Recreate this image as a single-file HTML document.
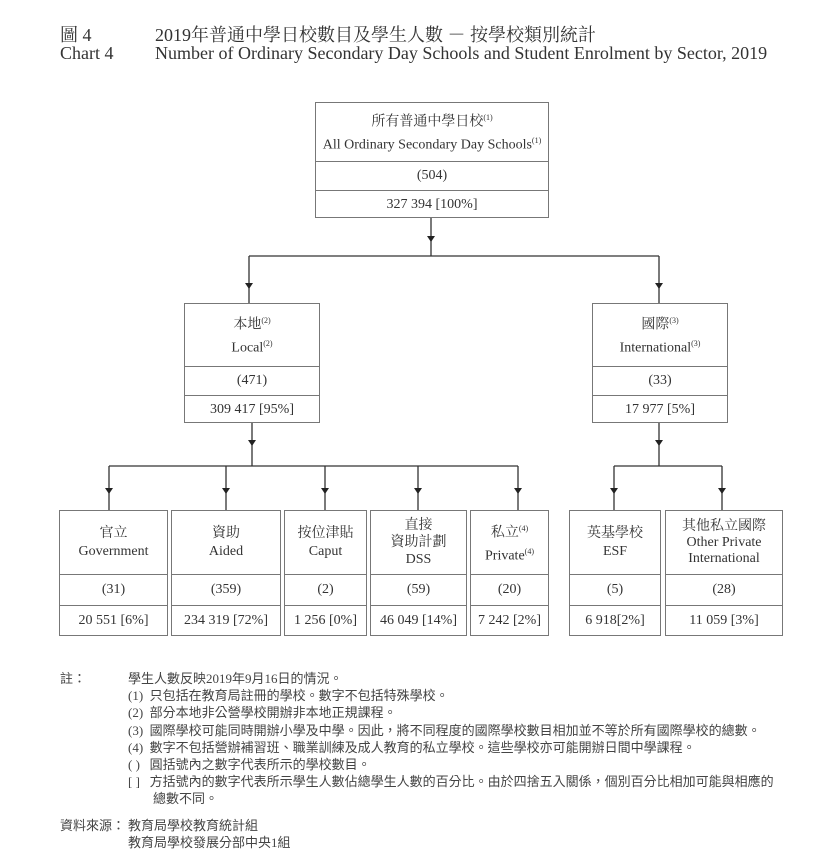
<!DOCTYPE html>
<html><head><meta charset="utf-8"><style>
body{margin:0;width:828px;height:846px;background:#fff;font-family:"Liberation Serif","Noto Serif CJK SC","Noto Sans CJK TC",serif;color:#333;position:relative;overflow:hidden}
.a{position:absolute;white-space:nowrap}
.box{position:absolute;border:1.5px solid #777;box-sizing:border-box;background:#fff}
.box div{position:absolute;left:0;right:0;text-align:center;box-sizing:border-box}
.r1{top:0;display:flex;flex-direction:column;justify-content:center;font-size:14px;line-height:18px}
.r2,.r3{border-top:1.5px solid #777;display:flex;align-items:center;justify-content:center;font-size:14px}
sup{font-size:8px}
.n{font-size:13px;color:#444;font-family:"Liberation Serif","Noto Sans CJK TC",serif}
</style></head><body>
<div class="a" style="left:60px;top:21px;font-size:18px">圖 4</div>
<div class="a" style="left:155px;top:21px;font-size:18px">2019年普通中學日校數目及學生人數 － 按學校類別統計</div>
<div class="a" style="left:60px;top:43px;font-size:18px">Chart 4</div>
<div class="a" style="left:155px;top:43px;font-size:18px">Number of Ordinary Secondary Day Schools and Student Enrolment by Sector, 2019</div>

<svg class="a" style="left:0;top:0" width="828" height="846">
<g stroke="#333" stroke-width="1.3" fill="none">
<line x1="431" y1="217" x2="431" y2="256"/>
<line x1="249" y1="256" x2="659" y2="256"/>
<line x1="249" y1="256" x2="249" y2="303"/>
<line x1="659" y1="256" x2="659" y2="303"/>
<line x1="252" y1="422" x2="252" y2="466"/>
<line x1="109" y1="466" x2="518" y2="466"/>
<line x1="659" y1="422" x2="659" y2="466"/>
<line x1="614" y1="466" x2="722" y2="466"/>
<line x1="109" y1="466" x2="109" y2="510"/>
<line x1="226" y1="466" x2="226" y2="510"/>
<line x1="325" y1="466" x2="325" y2="510"/>
<line x1="418" y1="466" x2="418" y2="510"/>
<line x1="518" y1="466" x2="518" y2="510"/>
<line x1="614" y1="466" x2="614" y2="510"/>
<line x1="722" y1="466" x2="722" y2="510"/>
</g>
<g fill="#222">
<path d="M427 236h8l-4 6z"/>
<path d="M245 283h8l-4 6z"/><path d="M655 283h8l-4 6z"/>
<path d="M248 440h8l-4 6z"/><path d="M655 440h8l-4 6z"/>
<path d="M105 488h8l-4 6z"/><path d="M222 488h8l-4 6z"/><path d="M321 488h8l-4 6z"/><path d="M414 488h8l-4 6z"/><path d="M514 488h8l-4 6z"/><path d="M610 488h8l-4 6z"/><path d="M718 488h8l-4 6z"/>
</g>
</svg>

<div class="box" style="left:315px;top:102px;width:234px;height:116px">
<div class="r1" style="height:58px"><span>所有普通中學日校<sup>(1)</sup></span><span>All Ordinary Secondary Day Schools<sup>(1)</sup></span></div>
<div class="r2" style="top:58px;height:29px">(504)</div>
<div class="r3" style="top:87px;height:28px">327 394 [100%]</div>
</div>

<div class="box" style="left:184px;top:303px;width:136px;height:120px">
<div class="r1" style="height:62px"><span>本地<sup>(2)</sup></span><span>Local<sup>(2)</sup></span></div>
<div class="r2" style="top:62px;height:29px">(471)</div>
<div class="r3" style="top:91px;height:28px">309 417 [95%]</div>
</div>
<div class="box" style="left:592px;top:303px;width:136px;height:120px">
<div class="r1" style="height:62px"><span>國際<sup>(3)</sup></span><span>International<sup>(3)</sup></span></div>
<div class="r2" style="top:62px;height:29px">(33)</div>
<div class="r3" style="top:91px;height:28px">17 977 [5%]</div>
</div>

<div class="box" style="left:59px;top:510px;width:109px;height:126px"><div class="r1" style="height:63px"><span>官立</span><span>Government</span></div><div class="r2" style="top:63px;height:31px">(31)</div><div class="r3" style="top:94px;height:31px">20 551 [6%]</div></div>
<div class="box" style="left:171px;top:510px;width:110px;height:126px"><div class="r1" style="height:63px"><span>資助</span><span>Aided</span></div><div class="r2" style="top:63px;height:31px">(359)</div><div class="r3" style="top:94px;height:31px">234 319 [72%]</div></div>
<div class="box" style="left:284px;top:510px;width:83px;height:126px"><div class="r1" style="height:63px"><span>按位津貼</span><span>Caput</span></div><div class="r2" style="top:63px;height:31px">(2)</div><div class="r3" style="top:94px;height:31px">1 256 [0%]</div></div>
<div class="box" style="left:370px;top:510px;width:97px;height:126px"><div class="r1" style="height:63px;line-height:17px"><span>直接</span><span>資助計劃</span><span>DSS</span></div><div class="r2" style="top:63px;height:31px">(59)</div><div class="r3" style="top:94px;height:31px">46 049 [14%]</div></div>
<div class="box" style="left:470px;top:510px;width:79px;height:126px"><div class="r1" style="height:63px"><span>私立<sup>(4)</sup></span><span>Private<sup>(4)</sup></span></div><div class="r2" style="top:63px;height:31px">(20)</div><div class="r3" style="top:94px;height:31px">7 242 [2%]</div></div>
<div class="box" style="left:569px;top:510px;width:92px;height:126px"><div class="r1" style="height:63px"><span>英基學校</span><span>ESF</span></div><div class="r2" style="top:63px;height:31px">(5)</div><div class="r3" style="top:94px;height:31px">6 918[2%]</div></div>
<div class="box" style="left:665px;top:510px;width:118px;height:126px"><div class="r1" style="height:63px;line-height:16px"><span>其他私立國際</span><span>Other Private</span><span>International</span></div><div class="r2" style="top:63px;height:31px">(28)</div><div class="r3" style="top:94px;height:31px">11 059 [3%]</div></div>

<div class="a n" style="left:60px;top:668px">註：</div>
<div class="a n" style="left:128px;top:668px">學生人數反映2019年9月16日的情況。</div>
<div class="a n" style="left:128px;top:685px">(1)&nbsp;&nbsp;只包括在教育局註冊的學校。數字不包括特殊學校。</div>
<div class="a n" style="left:128px;top:702px">(2)&nbsp;&nbsp;部分本地非公營學校開辦非本地正規課程。</div>
<div class="a n" style="left:128px;top:720px">(3)&nbsp;&nbsp;國際學校可能同時開辦小學及中學。因此，將不同程度的國際學校數目相加並不等於所有國際學校的總數。</div>
<div class="a n" style="left:128px;top:737px">(4)&nbsp;&nbsp;數字不包括營辦補習班、職業訓練及成人教育的私立學校。這些學校亦可能開辦日間中學課程。</div>
<div class="a n" style="left:128px;top:754px">( )&nbsp;&nbsp;&nbsp;圓括號內之數字代表所示的學校數目。</div>
<div class="a n" style="left:128px;top:771px">[ ]&nbsp;&nbsp;&nbsp;方括號內的數字代表所示學生人數佔總學生人數的百分比。由於四捨五入關係，個別百分比相加可能與相應的</div>
<div class="a n" style="left:153px;top:788px">總數不同。</div>
<div class="a n" style="left:60px;top:815px">資料來源：</div>
<div class="a n" style="left:128px;top:815px">教育局學校教育統計組</div>
<div class="a n" style="left:128px;top:832px">教育局學校發展分部中央1組</div>
</body></html>
